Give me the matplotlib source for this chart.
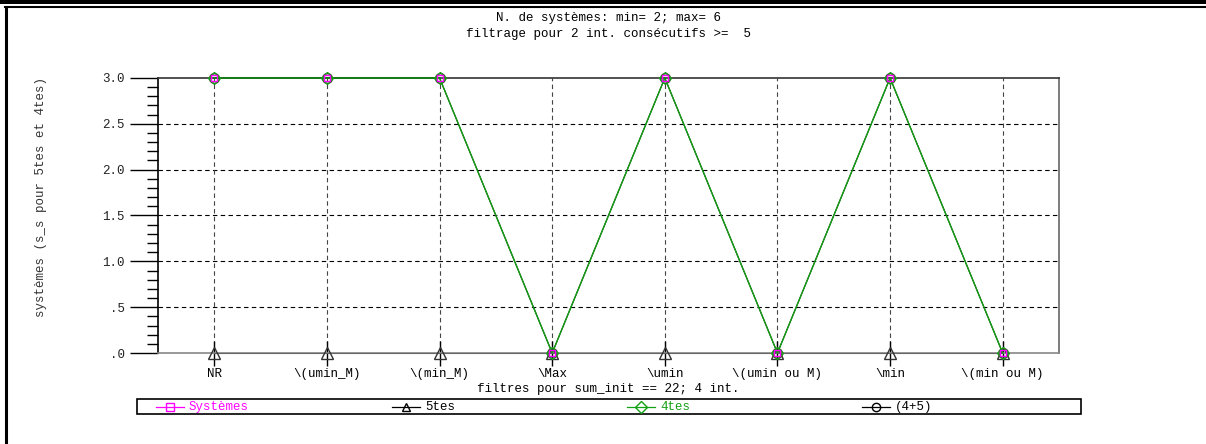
import matplotlib
matplotlib.use("Agg")
import matplotlib.pyplot as plt
from matplotlib.lines import Line2D
from matplotlib.patches import Rectangle
from matplotlib.ticker import MultipleLocator, FixedLocator

plt.rcParams['font.family'] = ['Liberation Mono', 'DejaVu Sans Mono']
plt.rcParams['font.size'] = 9

categories = ["NR", "\\(umin_M)", "\\(min_M)", "\\Max", "\\umin",
              "\\(umin ou M)", "\\min", "\\(min ou M)"]
systemes = [3, 3, 3, 0, 3, 0, 3, 0]
tes5 = [0, 0, 0, 0, 0, 0, 0, 0]
tes4 = [3, 3, 3, 0, 3, 0, 3, 0]
tes45 = [3, 3, 3, 0, 3, 0, 3, 0]
yticks = [0, 0.5, 1.0, 1.5, 2.0, 2.5, 3.0]
ytick_labels = ['.0', '.5', '1.0', '1.5', '2.0', '2.5', '3.0']

W, H = 1206, 444
fig = plt.figure(figsize=(W / 100, H / 100), dpi=100)

# window frame
fig.add_artist(Rectangle((0, 1 - 4.5 / H), 1, 4.5 / H, transform=fig.transFigure,
                         color='black', lw=0))
fig.add_artist(Line2D([5 / W, 1], [1 - 7 / H, 1 - 7 / H], transform=fig.transFigure,
                      color='black', lw=1.5))
fig.add_artist(Line2D([6 / W, 6 / W], [0, 1 - 7 / H], transform=fig.transFigure,
                      color='black', lw=2.2))

ax = fig.add_axes([158 / W, 1 - 353 / H, (1059 - 158) / W, (353 - 78) / H])
x = list(range(len(categories)))
green = '#14a014'

ax.plot(x, tes45, color='black', lw=0.8, marker='o', ms=7, mfc='none', mec='#333333',
        zorder=3, clip_on=False)
ax.plot(x, tes5, color='#666666', lw=0.8, marker='^', ms=8, mfc='none', mec='#333333',
        zorder=3, clip_on=False)
ax.plot(x, tes4, color=green, lw=1.0, marker='D', ms=6, mfc='none', mec=green,
        zorder=5, clip_on=False)
ax.plot(x, systemes, color='magenta', lw=0, marker='s', ms=5, mfc='none', mec='magenta',
        zorder=6, clip_on=False)

ax.set_xlim(-0.5, 7.5)
ax.set_ylim(0, 3)
ax.set_xticks(x)
ax.set_xticklabels(categories)
ax.yaxis.set_major_locator(FixedLocator(yticks))
ax.yaxis.set_minor_locator(MultipleLocator(0.1))
ax.set_yticklabels(ytick_labels)

ax.tick_params(axis='y', which='major', direction='out', length=20, width=1, color='black',
               pad=4, labelcolor='#222222')
ax.tick_params(axis='y', which='minor', direction='out', length=8, width=1, color='black')
ax.tick_params(axis='x', which='major', direction='inout', length=18, width=1, color='black', pad=2)

for y in yticks[1:-1]:
    ax.axhline(y, color='black', lw=0.8, ls=(0, (4, 3)), zorder=1)
for xi in x:
    ax.axvline(xi, color='#444444', lw=0.8, ls=(0, (4, 3)), zorder=1)

ax.spines['left'].set_color('black')
ax.spines['top'].set_color('#333333')
ax.spines['right'].set_color('#666666')
ax.spines['bottom'].set_color('#888888')
for s in ax.spines.values():
    s.set_linewidth(1.2)

ax.set_xlabel("filtres pour sum_init == 22; 4 int.", labelpad=2)

fig.text(608 / W, 1 - 18 / H, "N. de systèmes: min= 2; max= 6", ha='center', va='center')
fig.text(608 / W, 1 - 34 / H, "filtrage pour 2 int. consécutifs >=  5", ha='center', va='center')
fig.text(41 / W, 1 - 197 / H, "systèmes (s_s pour 5tes et 4tes)", rotation=90,
         ha='center', va='center', color='#333333')

# legend box
fig.add_artist(Rectangle((137 / W, 1 - 414 / H), (1081 - 137) / W, 15 / H,
                         transform=fig.transFigure, fill=False, ec='black', lw=1.2))
leg_items = [("Systèmes", 'magenta', 's', 156),
             ("5tes", 'black', '^', 392),
             ("4tes", green, 'D', 627),
             ("(4+5)", 'black', 'o', 862)]
ly = 1 - 406.5 / H
for label, col, mk, x0 in leg_items:
    fig.add_artist(Line2D([x0 / W, (x0 + 28) / W], [ly, ly], transform=fig.transFigure,
                          color=col, lw=0.9))
    fig.add_artist(Line2D([(x0 + 14) / W], [ly], transform=fig.transFigure,
                          marker=mk, ms=6, mfc='none', mec=col, lw=0))
    fig.text((x0 + 33) / W, ly, label, color=col, ha='left', va='center')

fig.savefig("out.png", dpi=100)
